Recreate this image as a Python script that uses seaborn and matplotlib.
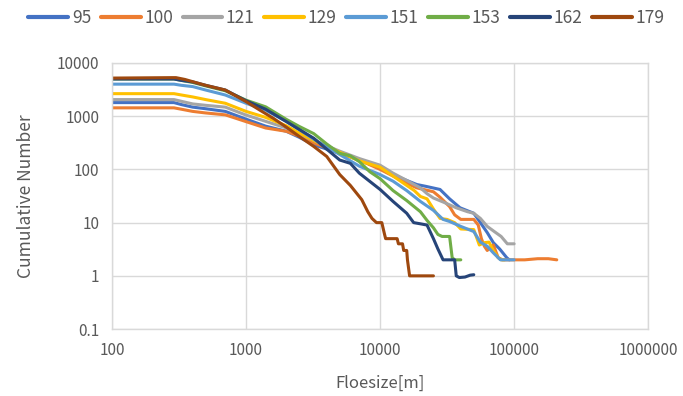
import numpy as np
import pandas as pd
import matplotlib
matplotlib.use("Agg")
import matplotlib.pyplot as plt
import matplotlib.ticker as mticker
import seaborn as sns

series_names = ["95", "100", "121", "129", "151", "153", "162", "179"]
colors = ["#4472C4", "#ED7D31", "#A5A5A5", "#FFC000", "#5B9BD5", "#70AD47", "#264478", "#9E480E"]

x_95 = [100, 290, 330, 400, 500, 700, 1000, 1400, 2000, 2500, 3200, 5000, 7000, 10000, 12500, 15800, 18800, 22000, 28000, 33000, 39500, 50000, 56000, 63000, 70000, 78000, 88000, 92000]
y_95 = [1800, 1800, 1650, 1480, 1380, 1230, 880, 650, 520, 400, 290, 200, 150, 105, 80, 62, 52, 48, 42, 28, 19, 15, 10, 6.5, 4.2, 3.2, 2.2, 2]

x_100 = [100, 290, 330, 400, 500, 700, 1000, 1400, 2000, 2500, 3200, 5000, 7000, 10000, 12500, 15800, 18800, 25000, 28000, 33000, 36000, 40000, 50000, 54000, 57000, 60000, 63000, 70000, 76000, 82000, 95000, 120000, 150000, 180000, 208000]
y_100 = [1435, 1435, 1350, 1230, 1150, 1060, 790, 600, 520, 420, 316, 205, 150, 100, 75, 55, 45, 38, 30, 20, 14, 11.5, 11.5, 9, 5, 3.6, 3, 3.8, 2.2, 2, 2, 2, 2.1, 2.1, 2]

x_121 = [100, 290, 330, 400, 500, 700, 1000, 1400, 2000, 2500, 3200, 5000, 7000, 10000, 12500, 15800, 20000, 22400, 25000, 30000, 37000, 45000, 50000, 56000, 63000, 70000, 80000, 89000, 100000]
y_121 = [2050, 2050, 1900, 1700, 1600, 1480, 1050, 800, 600, 460, 350, 220, 160, 120, 85, 62, 45, 35, 29, 24, 19, 16, 15, 12, 8.5, 7, 5.5, 4, 4]

x_129 = [100, 290, 330, 400, 500, 700, 1000, 1400, 2000, 2500, 3200, 5000, 7000, 10000, 12500, 15800, 18000, 20000, 22400, 25000, 28000, 31600, 36000, 40000, 50000, 55000, 60000, 65000, 70000, 76000, 80000, 85000]
y_129 = [2650, 2650, 2500, 2300, 2050, 1750, 1230, 950, 660, 480, 350, 210, 145, 110, 75, 50, 40, 31, 28, 18, 12, 11.5, 10, 7.6, 7.4, 3.8, 4.2, 4.3, 3, 2.2, 2, 2]

x_151 = [100, 290, 330, 400, 500, 700, 1000, 1400, 2000, 2500, 3200, 5000, 7000, 10000, 12500, 15800, 20000, 25000, 29500, 33000, 40000, 50000, 56000, 63000, 70000, 79000, 85000, 100000]
y_151 = [4000, 4000, 3800, 3600, 3100, 2500, 1750, 1300, 800, 560, 370, 190, 115, 80, 60, 40, 25, 17, 11.5, 10.5, 8.5, 6.8, 4.3, 3.6, 2.7, 2, 2, 2]

x_153 = [100, 290, 330, 400, 500, 700, 1000, 1400, 2000, 2500, 3200, 4000, 5000, 6000, 7000, 8400, 10000, 12500, 15800, 20000, 22400, 25000, 27000, 29000, 33000, 34500, 36000, 40000]
y_153 = [5000, 5000, 4700, 4300, 3700, 3000, 2000, 1500, 870, 640, 470, 300, 200, 180, 140, 90, 67, 40, 26, 16, 11, 8, 6, 5.5, 5.5, 2.2, 2, 2]

x_162 = [100, 290, 330, 400, 500, 700, 1000, 1400, 2000, 2500, 3200, 4000, 5000, 6000, 7000, 10000, 12500, 15800, 17800, 20000, 22400, 25000, 27000, 29500, 36000, 37000, 39000, 43000, 47000, 50000]
y_162 = [5000, 5000, 4700, 4400, 3800, 3100, 1950, 1350, 790, 560, 385, 240, 150, 130, 85, 42, 25, 15, 10, 9.5, 9, 5, 3.2, 2, 2, 1, 0.93, 0.95, 1.03, 1.05]

x_179 = [100, 280, 300, 350, 400, 500, 700, 1000, 1300, 1600, 2000, 2500, 3200, 4000, 5000, 6000, 7300, 8100, 8700, 9400, 10300, 10800, 11000, 13400, 13700, 14700, 15000, 15800, 16000, 16600, 25000]
y_179 = [5200, 5300, 5300, 4900, 4450, 3800, 3100, 1880, 1250, 910, 620, 415, 270, 175, 80, 50, 27, 16, 12, 10, 10, 6, 5, 5, 4, 4, 3, 3, 2, 1, 1]

xs = [x_95, x_100, x_121, x_129, x_151, x_153, x_162, x_179]
ys = [y_95, y_100, y_121, y_129, y_151, y_153, y_162, y_179]

frames = []
for name, xv, yv in zip(series_names, xs, ys):
    frames.append(pd.DataFrame({"Floesize": xv, "Count": yv, "series": name}))
df = pd.concat(frames, ignore_index=True)

sns.set_theme(style="white")
plt.rcParams["font.family"] = ["Noto Sans CJK JP", "DejaVu Sans"]

fig = plt.figure(figsize=(6.83, 3.96), dpi=100)
ax = fig.add_axes([0.164, 0.169, 0.785, 0.672])

sns.lineplot(data=df, x="Floesize", y="Count", hue="series", hue_order=series_names,
             palette=colors, estimator=None, sort=False, units="series",
             linewidth=2.2, ax=ax, legend=True)

ax.set_xscale("log")
ax.set_yscale("log")
ax.set_xlim(100, 1000000)
ax.set_ylim(0.1, 10000)
ax.xaxis.set_major_locator(mticker.LogLocator(base=10, numticks=10))
ax.yaxis.set_major_locator(mticker.LogLocator(base=10, numticks=10))
ax.xaxis.set_minor_locator(mticker.NullLocator())
ax.yaxis.set_minor_locator(mticker.NullLocator())
fmt = mticker.FuncFormatter(lambda v, p: ("%g" % v) if v < 1 else "%d" % round(v))
ax.xaxis.set_major_formatter(fmt)
ax.yaxis.set_major_formatter(fmt)
ax.grid(True, which="major", color="#D9D9D9", linewidth=1.0)
ax.set_axisbelow(True)
for s in ax.spines.values():
    s.set_color("#D9D9D9")
    s.set_linewidth(1.0)
ax.tick_params(axis="both", length=0, colors="#595959", labelsize=11, pad=9)
ax.set_xlabel("Floesize[m]", color="#595959", fontsize=12, labelpad=12)
ax.set_ylabel("Cumulative Number", color="#595959", fontsize=12.5, labelpad=16)

handles, labels = ax.get_legend_handles_labels()
ax.legend_.remove()
leg = fig.legend(handles, labels, loc="center", bbox_to_anchor=(0.507, 0.955), ncol=8,
                 frameon=False, fontsize=12.5, handlelength=2.3, handletextpad=0.2,
                 columnspacing=0.55, labelcolor="#595959")
for h in leg.get_lines():
    h.set_linewidth(3.0)

fig.savefig("out.png", dpi=100)
